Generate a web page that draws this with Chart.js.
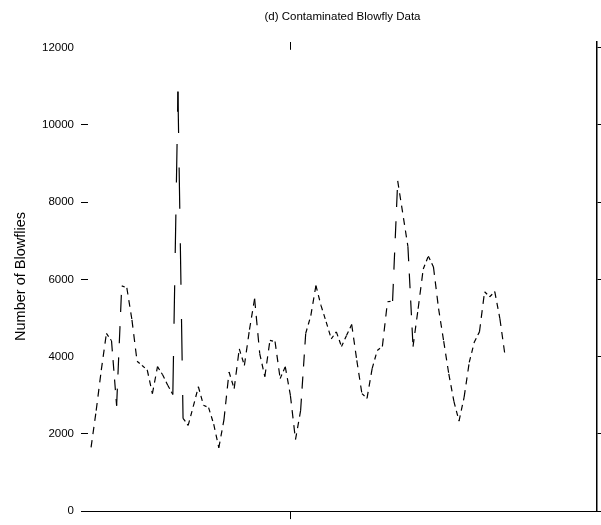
<!DOCTYPE html>
<html>
<head>
<meta charset="utf-8">
<script src="https://cdn.jsdelivr.net/npm/chart.js@4.4.1/dist/chart.umd.min.js"></script>
<style>
  html, body { margin: 0; background: #fff; }
  #wrap { width: 601px; height: 525px; }
</style>
</head>
<body>
<div id="wrap"><canvas id="c"></canvas></div>
<script>
// Contaminated blowfly counts, one value per time step (1..82)
const blowflies = [
  1650, 2600, 3650, 4600, 4410, 2730, 5830, 5780, 4950, 3880,
  3770, 3650, 3040, 3740, 3530, 3260, 3020, 10860, 2400, 2220,
  2710, 3220, 2740, 2680, 2250, 1640, 2360, 3600, 3170, 4200,
  3770, 4700, 5500, 4080, 3480, 4420, 4390, 3430, 3740, 3000,
  1850, 2600, 4600, 5060, 5840, 5320, 4900, 4460, 4640, 4260,
  4550, 4830, 3900, 3040, 2920, 3690, 4160, 4260, 5420, 5440,
  8550, 7700, 6850, 4260, 5240, 6270, 6600, 6320, 5240, 4400,
  3550, 2840, 2330, 2950, 3850, 4380, 4640, 5680, 5550, 5680,
  4980, 4030
]
const xTicks = [40]
const yTicks = [0, 2000, 4000, 6000, 8000, 10000, 12000]
const yTicksNoMark = [4000, 12000]

const points = blowflies.map((v, i) => ({ x: i + 1, y: v }))
const FONT = 'Liberation Sans, Arial, sans-serif'

// dashes get longer on steep pieces, like the old plot device did
const dashFor = (ctx) => {
  const dx = Math.abs(ctx.p1.x - ctx.p0.x) || 0.01
  const dy = Math.abs(ctx.p1.y - ctx.p0.y)
  const f = 1 + 0.2 * (dy / dx)
  return [3 * f, 2.5 * f]
}

const setTicks = (list) => (scale) => {
  scale.ticks = list.map((value) => ({ value }))
}

new Chart(document.getElementById('c'), {
  type: 'line',
  data: {
    datasets: [{
      data: points,
      borderColor: '#000',
      borderWidth: 1.2,
      pointRadius: 0,
      tension: 0,
      fill: false,
      segment: { borderDash: dashFor }
    }]
  },
  options: {
    responsive: true,
    maintainAspectRatio: false,
    animation: false,
    layout: { padding: 0 },
    plugins: {
      legend: { display: false },
      tooltip: { enabled: false },
      title: {
        display: true,
        text: '(d) Contaminated Blowfly Data',
        fullSize: false,
        color: '#000',
        font: { family: FONT, size: 11.5, weight: 'normal' },
        padding: { top: 10, bottom: 18 }
      }
    },
    scales: {
      x: {
        type: 'linear',
        position: 'bottom',
        min: 0.4,
        max: 100,
        afterBuildTicks: setTicks(xTicks),
        afterFit: (s) => { s.height = 12 },
        ticks: { display: false },
        grid: { drawOnChartArea: false, tickLength: 8, tickColor: '#000' },
        border: { display: true, color: '#000', width: 1 }
      },
      xTop: {
        type: 'linear',
        position: 'top',
        min: 0.4,
        max: 100,
        afterBuildTicks: setTicks(xTicks),
        afterFit: (s) => { s.height = 0 },
        ticks: { display: false },
        grid: { drawOnChartArea: false, tickLength: -8, tickColor: '#000' },
        border: { display: false }
      },
      y: {
        position: 'left',
        min: 0,
        max: 12150,
        afterBuildTicks: setTicks(yTicks),
        afterFit: (s) => { s.width = 88 },
        ticks: {
          includeBounds: false,
          color: '#000',
          padding: 7,
          font: { family: FONT, size: 11.5 },
          callback: (v) => String(v)
        },
        grid: {
          drawOnChartArea: false,
          tickLength: 7,
          tickColor: (c) => yTicksNoMark.includes(c.tick.value) ? 'rgba(0,0,0,0)' : '#000'
        },
        border: { display: false },
        title: {
          display: true,
          text: 'Number of Blowflies',
          color: '#000',
          font: { family: FONT, size: 14.5 },
          padding: { top: 12, bottom: 4 }
        }
      },
      yRight: {
        position: 'right',
        min: 0,
        max: 12150,
        afterBuildTicks: setTicks(yTicks),
        afterFit: (s) => { s.width = 4 },
        ticks: { display: false },
        grid: { drawOnChartArea: false, tickLength: 4, tickColor: '#000' },
        border: { display: true, color: '#000', width: 1.5 }
      }
    }
  }
})
</script>
</body>
</html>
